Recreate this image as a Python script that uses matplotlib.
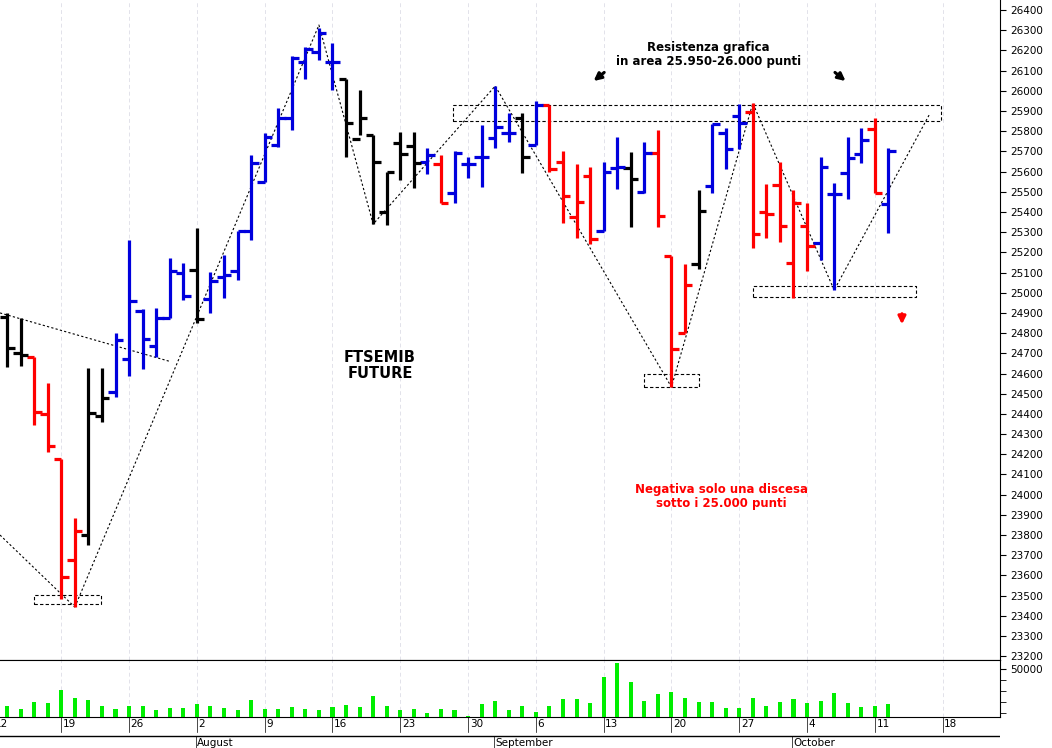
import numpy as np
import matplotlib.pyplot as plt

# trading-day index (weekdays from Mon 12 July), OHLC
day = np.arange(1, 67)
opn = [24880, 24700, 24680, 24400, 24176, 23676, 23800, 24390, 24508, 24672,
       24909, 24736, 24875, 25100, 25113, 24969, 25078, 25108, 25305, 25548,
       25731, 25865, 26142, 26192, 26142, 26058, 25760, 25781, 25400, 25741,
       25726, 25647, 25637, 25494, 25637, 25672, 25766, 25791, 25865, 25731,
       25930, 25647, 25375, 25578, 25306, 25617, 25620, 25499, 25692, 25182,
       24800, 25142, 25528, 25791, 25875, 25895, 25400, 25533, 25147, 25330,
       25246, 25489, 25593, 25687, 25811, 25439]
high = [24900, 24875, 24682, 24553, 24176, 23884, 24627, 24627, 24800, 25261,
        24919, 24924, 25172, 25147, 25320, 25103, 25187, 25305, 25682, 25791,
        25915, 26172, 26217, 26311, 26237, 26058, 26004, 25781, 25598, 25796,
        25796, 25717, 25682, 25702, 25672, 25830, 26024, 25890, 25890, 25949,
        25930, 25702, 25637, 25622, 25647, 25771, 25697, 25746, 25806, 25182,
        25142, 25509, 25835, 25815, 25934, 25939, 25538, 25647, 25509, 25444,
        25672, 25543, 25771, 25815, 25865, 25717]
low = [24632, 24637, 24345, 24210, 23483, 23443, 23750, 24360, 24483, 24587,
       24622, 24682, 24875, 24964, 24850, 24900, 24974, 25063, 25261, 25548,
       25721, 25806, 26058, 26152, 26004, 25672, 25781, 25340, 25335, 25558,
       25518, 25588, 25444, 25444, 25568, 25523, 25717, 25746, 25593, 25731,
       25598, 25345, 25271, 25241, 25306, 25513, 25325, 25494, 25325, 24533,
       24800, 25117, 25494, 25612, 25712, 25221, 25271, 25251, 24974, 25107,
       25162, 25013, 25464, 25642, 25494, 25296]
close = [24726, 24690, 24409, 24240, 23592, 23820, 24404, 24480, 24766, 24959,
         24770, 24875, 25108, 24984, 24870, 25058, 25088, 25305, 25642, 25771,
         25865, 26162, 26207, 26286, 26142, 25840, 25865, 25647, 25598, 25687,
         25642, 25682, 25444, 25692, 25637, 25672, 25821, 25791, 25672, 25930,
         25612, 25479, 25449, 25266, 25598, 25622, 25563, 25692, 25380, 24721,
         25039, 25405, 25835, 25712, 25840, 25291, 25390, 25330, 25444, 25231,
         25622, 25489, 25667, 25756, 25494, 25702]
colour = list("kkrrrrkkbbbbbbkbbbbbbbbbbkkkkkkbrbbbbbkbrrrrbbkbrrrkbbbrrrrrbbbbrb")
volume = [15900, 13700, 19900, 19300, 30800, 23600, 21800, 16500, 13100, 15900,
          16500, 12200, 14000, 14700, 17800, 15900, 14000, 12200, 21500, 13700,
          13100, 15600, 13100, 12800, 15600, 17400, 15600, 25500, 15900, 12800,
          13100, 9400, 13700, 12200, 6900, 18400, 20900, 12200, 15900, 10600,
          15900, 22400, 22700, 19300, 42600, 56200, 37900, 20900, 27400, 29200,
          23600, 19600, 19600, 14000, 14000, 23600, 16500, 20200, 22700, 19300,
          21200, 28300, 18700, 15000, 15900, 17800]

# weekly ticks (Mondays) and month starts
week_days = np.arange(0, 71, 5)
week_labels = ["12", "19", "26", "2", "9", "16", "23", "30", "6", "13", "20", "27", "4", "11", "18"]
month_days = [15, 37, 59]
month_labels = ["August", "September", "October"]

# swing lines and boxes drawn on the chart
zigzag_d = [6, 24, 28, 37, 50, 56, 62, 69.0]
zigzag_p = [23443, 26326, 25340, 26024, 24533, 25939, 25013, 25880]
fall_d = [0.48, 13]
fall_p = [24900, 24660]
edge_d = [0.48, 6]
edge_p = [23800, 23443]
boxes = [(33.9, 69.9, 25850, 25930), (3.0, 7.9, 23458, 23503),
         (48.0, 52.0, 24533, 24597), (56.0, 68.0, 24978, 25033)]

cmap = {"k": "black", "r": "#ff0000", "b": "#0000dd"}
cols = [cmap[c] for c in colour]
xlim = (0.48, 74.23)

fig = plt.figure(figsize=(10.52, 7.48), dpi=100)
ax = fig.add_axes([0, 1 - 660 / 748, 1000 / 1052, 660 / 748])
axv = fig.add_axes([0, 1 - 717 / 748, 1000 / 1052, 57 / 748])
axd = fig.add_axes([0, 0, 1000 / 1052, 31 / 748])

for a in (ax, axv):
    a.set_xlim(*xlim)
    for d in week_days:
        a.axvline(d, color="#e2e2ea", lw=0.7, ls=(0, (4, 3)), zorder=0)
    a.spines["left"].set_visible(False)
    a.spines["top"].set_visible(False)
    a.yaxis.tick_right()
    a.set_xticks([])
    a.tick_params(axis="y", labelsize=7.5, length=4)
axv.spines["top"].set_visible(True)

# OHLC bars
ax.vlines(day, low, high, colors=cols, lw=2.3, zorder=3)
ax.hlines(opn, day - 0.55, day, colors=cols, lw=2.3, zorder=3)
ax.hlines(close, day, day + 0.55, colors=cols, lw=2.3, zorder=3)

ax.plot(zigzag_d, zigzag_p, color="black", lw=0.8, ls=(0, (2, 2)), zorder=2)
ax.plot(fall_d, fall_p, color="black", lw=0.8, ls=(0, (2, 2)), zorder=2)
ax.plot(edge_d, edge_p, color="black", lw=0.8, ls=(0, (2, 2)), zorder=2)
for d0, d1, p0, p1 in boxes:
    ax.plot([d0, d1, d1, d0, d0], [p0, p0, p1, p1, p0], color="black", lw=0.8,
            ls=(0, (3, 2)), zorder=2)

ax.set_ylim(23181, 26450)
ax.set_yticks(np.arange(23200, 26401, 100))

ax.text(28.5, 24640, "FTSEMIB\nFUTURE", ha="center", va="center", fontsize=10.5,
        fontweight="bold", linespacing=1.1)
ax.text(52.7, 26180, "Resistenza grafica\nin area 25.950-26.000 punti", ha="center",
        va="center", fontsize=8.5, fontweight="bold", linespacing=1.1)
ax.text(53.7, 23990, "Negativa solo una discesa\nsotto i 25.000 punti", ha="center",
        va="center", fontsize=8.5, fontweight="bold", color="#ff0000", linespacing=1.1)
ax.annotate("", xy=(44.1, 26040), xytext=(45.2, 26100),
            arrowprops=dict(arrowstyle="-|>", color="black", lw=2.2, mutation_scale=11))
ax.annotate("", xy=(63.0, 26040), xytext=(61.9, 26100),
            arrowprops=dict(arrowstyle="-|>", color="black", lw=2.2, mutation_scale=11))
ax.annotate("", xy=(67.0, 24830), xytext=(67.0, 24910),
            arrowprops=dict(arrowstyle="-|>", color="#ff0000", lw=2.2, mutation_scale=11))

# volume
axv.bar(day, volume, width=0.3, color="#00ee00", zorder=3)
axv.set_ylim(6000, 58700)
axv.set_yticks([50000])
axv.set_yticks([10000, 20000, 30000, 40000], minor=True)
axv.tick_params(axis="y", which="minor", length=4)

# date strip
axd.set_xlim(*xlim)
axd.set_ylim(0, 31)
axd.axis("off")
axd.axhline(12, color="black", lw=1)
for d, lab in zip(week_days, week_labels):
    axd.plot([d, d], [16, 31], color="black", lw=0.5)
    axd.text(d + 0.12, 24, lab, fontsize=7.5, va="center", ha="left")
for d, lab in zip(month_days, month_labels):
    axd.plot([d - 0.1, d - 0.1], [0, 12], color="black", lw=0.5)
    axd.text(d, 5, lab, fontsize=7.5, va="center", ha="left")

fig.savefig("out.png", dpi=100)
